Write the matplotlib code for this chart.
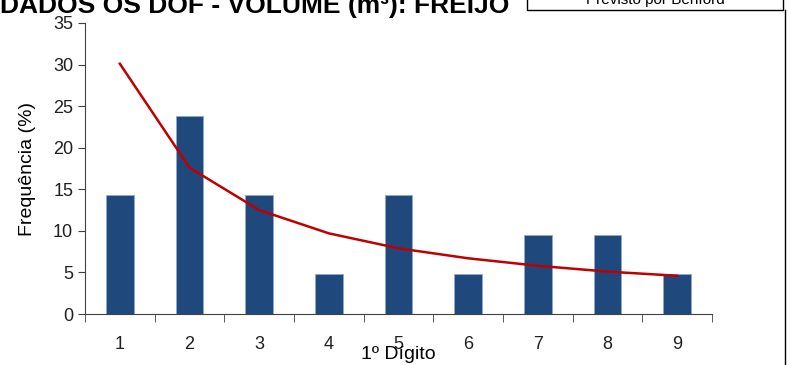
import matplotlib.pyplot as plt
import matplotlib.patches as mpatches
import numpy as np

digitos = [1, 2, 3, 4, 5, 6, 7, 8, 9]
observado = [14.3, 23.8, 14.3, 4.8, 14.3, 4.8, 9.5, 9.5, 4.8]
benford = [30.1, 17.6, 12.5, 9.7, 7.9, 6.7, 5.8, 5.1, 4.6]

fam = ['Liberation Sans Narrow', 'Liberation Sans', 'DejaVu Sans']
plt.rcParams['font.family'] = fam

fig = plt.figure(figsize=(7.88, 3.65), dpi=100)
ax = fig.add_axes([0.1079, 0.1397, 0.7957, 0.7973])

ax.bar(digitos, observado, width=0.4, color='#1F497D', edgecolor='#8EA9CC', linewidth=0.6, zorder=2)
ax.plot(digitos, benford, color='#C00000', linewidth=1.8, zorder=3)

ax.set_xlim(0.5, 9.5)
ax.set_ylim(0, 35)
ax.set_yticks(np.arange(0, 36, 5))
ax.set_xticks(digitos)
ax.set_xticks(np.arange(0.5, 10, 1), minor=True)
ax.tick_params(axis='x', which='major', length=0, pad=16, labelsize=13, labelcolor='#202020')
ax.tick_params(axis='x', which='minor', length=6, color='#404040')
ax.tick_params(axis='y', length=5, labelsize=13, color='#404040', labelcolor='#202020')

for s in ['top', 'right']:
    ax.spines[s].set_visible(False)
for s in ['left', 'bottom']:
    ax.spines[s].set_color('#404040')

ax.set_ylabel('Frequência (%)', fontsize=14, labelpad=12)
ax.set_xlabel('1º Dígito', fontsize=14, labelpad=-5)

# título cortado no topo
fig.text(0.0, 1 - 13 / 365, 'DADOS OS DOF - VOLUME (m³): FREIJÓ', fontsize=19, fontweight='bold',
         ha='left', va='baseline')

# caixa da legenda cortada
fig.patches.append(mpatches.Rectangle((527 / 788, 1 - 10 / 365), 256 / 788, 12 / 365,
                                      transform=fig.transFigure, facecolor='white',
                                      edgecolor='black', linewidth=1))
fig.text(655 / 788, 1 - 4 / 365, 'Previsto por Benford', fontsize=11,
         ha='center', va='baseline')

# borda direita
fig.add_artist(plt.Line2D([785 / 788, 785 / 788], [0, 1 - 10 / 365], transform=fig.transFigure,
                          color='black', linewidth=1))

fig.savefig('out.png', dpi=100)
